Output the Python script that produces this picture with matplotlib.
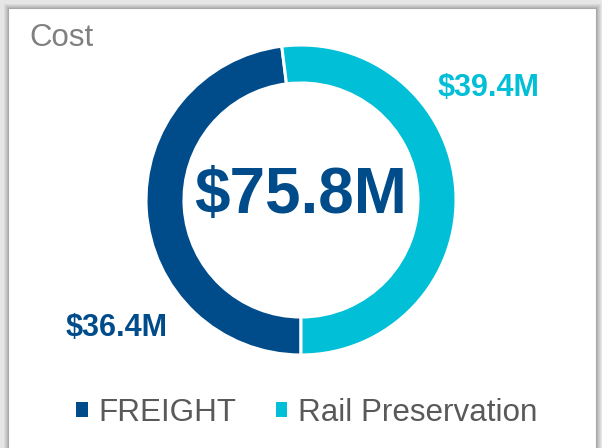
#donut chart of cost split between freight and rail preservation

#import necessary
from matplotlib import pyplot as plt
from matplotlib.patches import Rectangle, Patch
import numpy as np

#chart data
categories = ['FREIGHT', 'Rail Preservation']
values = [36.4, 39.4]          # $M
colors = ['#004C8A', '#00BFD6']
title = 'Cost'

plt.rcParams['font.family'] = ['Liberation Sans', 'DejaVu Sans']

W, H = 602, 448
fig = plt.figure(figsize=(W/100, H/100), dpi=100)
fig.patch.set_facecolor('#e6e6e6')
ax = fig.add_axes([0, 0, 1, 1])

#card with a soft shadow
for k, c in enumerate(['#dadada', '#cfcfcf', '#c4c4c4', '#b8b8b8']):
    off = 4 - k
    ax.add_patch(Rectangle((8 - off, -10), 589 + 2*off, H - 8 + 10 + off,
                           facecolor=c, edgecolor='none', zorder=0))
ax.add_patch(Rectangle((8, -10), 588, H - 8 + 10, facecolor='white',
                       edgecolor='#a8a8a8', linewidth=0.8, zorder=1))

#donut
cx, cy, r = 301, 248, 155
wedges, _ = ax.pie(values, colors=colors, startangle=-90, counterclock=False,
                   radius=r, center=(cx, cy), frame=True,
                   wedgeprops=dict(width=0.245*r, edgecolor='white', linewidth=2.2))
for w in wedges:
    w.set_zorder(2)
ax.set_xlim(0, W)
ax.set_ylim(0, H)
ax.axis('off')

#texts
ax.text(29, H - 38, title, fontsize=22.5, color='#808080', ha='left', va='center', zorder=3)
ax.text(cx, H - 196, '$%.1fM' % sum(values), fontsize=46, fontweight='bold',
        color=colors[0], ha='center', va='center', zorder=3)
ax.text(117, H - 328, '$%.1fM' % values[0], fontsize=22, fontweight='bold',
        color=colors[0], ha='center', va='center', zorder=3)
ax.text(488, H - 88, '$%.1fM' % values[1], fontsize=22, fontweight='bold',
        color=colors[1], ha='center', va='center', zorder=3)

#legend
handles = [Patch(facecolor=c, edgecolor='none') for c in colors]
leg = ax.legend(handles, categories, loc='center', bbox_to_anchor=(307/W, 1 - 413/H),
                ncol=2, frameon=False, fontsize=22.6, handlelength=0.36, handleheight=0.36,
                handletextpad=0.35, columnspacing=1.25, labelcolor='#595959')
leg.set_zorder(3)

fig.savefig('out.png', dpi=100, facecolor=fig.get_facecolor())
